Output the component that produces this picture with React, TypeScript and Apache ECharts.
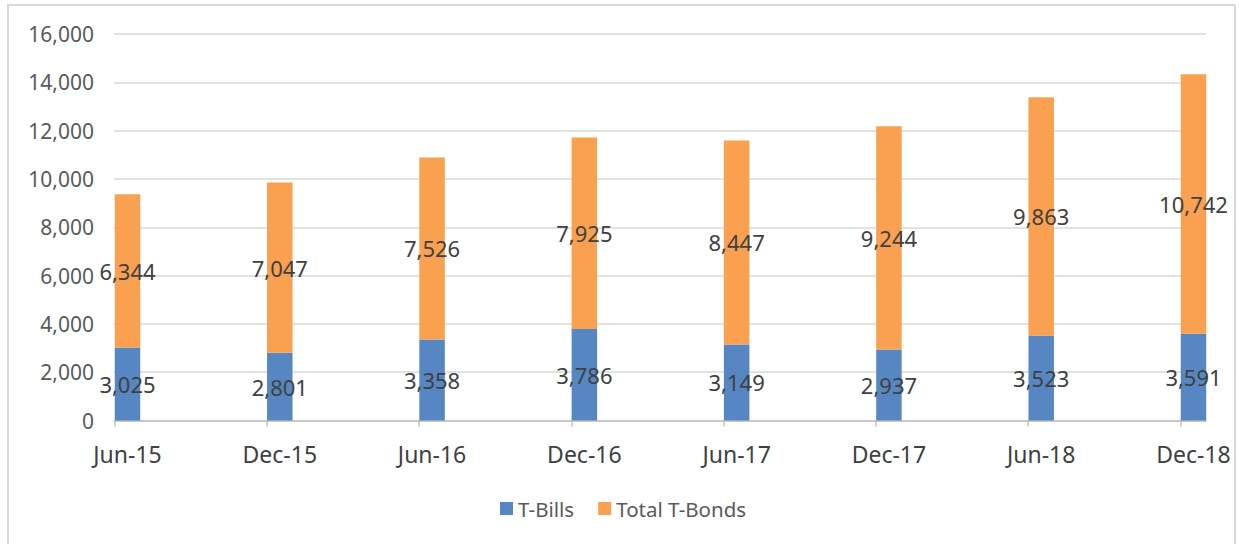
import React, { useEffect, useRef } from "react";
import * as echarts from "echarts";

const categories = ["Jun-15", "Dec-15", "Jun-16", "Dec-16", "Jun-17", "Dec-17", "Jun-18", "Dec-18"];
const tBills = [3025, 2801, 3358, 3786, 3149, 2937, 3523, 3591];
const totalTBonds = [6344, 7047, 7526, 7925, 8447, 9244, 9863, 10742];
const yMin = 0;
const yMax = 16000;
const yInterval = 2000;

const FONT = "'Noto Sans', 'Open Sans', sans-serif";
const BLUE = "#5787C3";
const ORANGE = "#F9A051";

export default function App() {
  const ref = useRef<HTMLDivElement>(null);

  useEffect(() => {
    if (!ref.current) return;
    const chart = echarts.init(ref.current, null, { renderer: "svg" });
    const gridTop = 34;
    const gridHeight = 386.5;
    const fmt = (v: number) => v.toLocaleString("en-US");
    const labelStyle = {
      show: true,
      position: "inside" as const,
      color: "#404040",
      fontFamily: FONT,
      fontSize: 22,
      formatter: (p: any) => fmt(p.value),
    };
    chart.setOption({
      animation: false,
      backgroundColor: "#ffffff",
      textStyle: { fontFamily: FONT },
      graphic: [
        {
          type: "rect",
          shape: { x: 8, y: 5, width: 1227, height: 560 },
          style: { fill: "none", stroke: "#d9d9d9", lineWidth: 2 },
          silent: true,
        },
      ],
      legend: {
        data: ["T-Bills", "Total T-Bonds"],
        left: 500,
        top: 498,
        padding: 0,
        icon: "rect",
        itemWidth: 13,
        itemHeight: 13,
        itemGap: 24,
        textStyle: { color: "#595959", fontFamily: FONT, fontSize: 20.5 },
      },
      grid: [
        { left: 114, top: gridTop, width: 1092, height: gridHeight },
        { left: 127.5, top: gridTop, width: 1066, height: gridHeight },
        { left: 114.5, top: gridTop, width: 1066, height: gridHeight },
      ],
      xAxis: [
        {
          gridIndex: 0,
          type: "category",
          data: [""],
          axisLine: { show: true, lineStyle: { color: "#bfbfbf", width: 1.5 } },
          axisTick: { show: false },
          axisLabel: { show: false },
          splitLine: { show: false },
        },
        {
          gridIndex: 1,
          type: "category",
          data: categories,
          boundaryGap: false,
          axisLine: { show: false },
          axisTick: { show: false },
          axisLabel: {
            color: "#404040",
            fontFamily: FONT,
            fontSize: 23,
            margin: 22,
            interval: 0,
          },
          splitLine: { show: false },
        },
        {
          gridIndex: 2,
          type: "category",
          data: categories,
          boundaryGap: false,
          axisLine: { show: false },
          axisTick: { show: true, length: 6, interval: 0, lineStyle: { color: "#bfbfbf", width: 1.5 } },
          axisLabel: { show: false },
          splitLine: { show: false },
        },
      ],
      yAxis: [
        {
          gridIndex: 0,
          type: "value",
          min: yMin,
          max: yMax,
          interval: yInterval,
          axisLine: { show: false },
          axisTick: { show: false },
          axisLabel: {
            color: "#595959",
            fontFamily: FONT,
            fontSize: 21,
            margin: 20,
            formatter: (v: number) => fmt(v),
          },
          splitLine: { show: true, lineStyle: { color: "#d9d9d9", width: 1.5 } },
        },
        {
          gridIndex: 1,
          type: "value",
          min: yMin,
          max: yMax,
          interval: yInterval,
          show: false,
          splitLine: { show: false },
        },
        {
          gridIndex: 2,
          type: "value",
          min: yMin,
          max: yMax,
          interval: yInterval,
          show: false,
          splitLine: { show: false },
        },
      ],
      series: [
        {
          name: "T-Bills",
          type: "bar",
          xAxisIndex: 1,
          yAxisIndex: 1,
          stack: "total",
          barWidth: 25.5,
          clip: false,
          data: tBills,
          itemStyle: { color: BLUE },
          label: labelStyle,
        },
        {
          name: "Total T-Bonds",
          type: "bar",
          xAxisIndex: 1,
          yAxisIndex: 1,
          stack: "total",
          barWidth: 25.5,
          clip: false,
          data: totalTBonds,
          itemStyle: { color: ORANGE },
          label: labelStyle,
        },
      ],
    });
    return () => chart.dispose();
  }, []);

  return (
    <div
      ref={ref}
      style={{ position: "absolute", left: 0, top: 0, width: 1239, height: 544 }}
    />
  );
}
